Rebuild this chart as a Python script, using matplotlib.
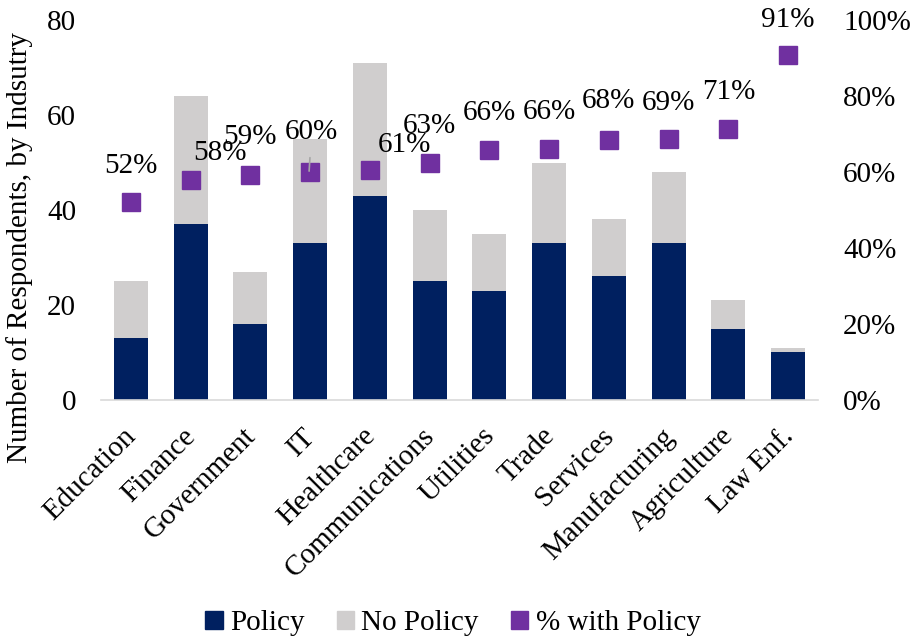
import matplotlib
matplotlib.use("Agg")
import matplotlib.pyplot as plt
import matplotlib.transforms as mtransforms
from matplotlib.patches import Patch
import numpy as np

plt.rcParams['font.family'] = ['Liberation Serif', 'DejaVu Serif']

industries = ["Education", "Finance", "Government", "IT", "Healthcare",
              "Communications", "Utilities", "Trade", "Services",
              "Manufacturing", "Agriculture", "Law Enf."]
policy = [13, 37, 16, 33, 43, 25, 23, 33, 26, 33, 15, 10]
totals = [25, 64, 27, 55, 71, 40, 35, 50, 38, 48, 21, 11]
pct_labels = ["52%", "58%", "59%", "60%", "61%", "63%", "66%", "66%",
              "68%", "69%", "71%", "91%"]

no_policy = [t - p for t, p in zip(totals, policy)]
pct_with_policy = [p / t for p, t in zip(policy, totals)]

# label offsets (points) relative to each marker
label_dx = [0, 21, 0, 1, 25, 0, 0, 0, 0, 0, 0, 0]
label_dy = [26, 20, 27, 29, 18, 26, 27, 27, 28, 26, 26, 25]

NAVY = "#002060"
GREY = "#D0CECE"
PURPLE = "#7030A0"
FS = 21

fig = plt.figure(figsize=(9.15, 6.42), dpi=100)
ax = fig.add_axes([0.1104, 0.377, 0.7836, 0.5918])
x = np.arange(len(industries))
w = 0.57
ax.bar(x, policy, width=w, color=NAVY, zorder=2)
ax.bar(x, no_policy, width=w, bottom=policy, color=GREY, zorder=2)

ax.set_xlim(-0.5, len(industries) - 0.5)
ax.set_ylim(0, 80)
ax.set_yticks([0, 20, 40, 60, 80])
ax.set_ylabel("Number of Respondents, by Indsutry", fontsize=FS)
ax.yaxis.set_label_coords(-0.095, 0.40)
ax.set_xticks(x)
ax.set_xticklabels(industries, rotation=45, ha="right", rotation_mode="anchor",
                   fontsize=FS)
ax.tick_params(axis="both", length=0, labelsize=FS)
ax.tick_params(axis="x", pad=8)
ax.tick_params(axis="y", pad=18)
shift = mtransforms.ScaledTranslation(-0.08, -0.12, fig.dpi_scale_trans)
for lbl in ax.get_xticklabels():
    lbl.set_transform(lbl.get_transform() + shift)
for s in ["top", "right", "left"]:
    ax.spines[s].set_visible(False)
ax.spines["bottom"].set_color("#D9D9D9")
ax.spines["bottom"].set_linewidth(1.2)

ax2 = ax.twinx()
ax2.set_ylim(0, 1)
ax2.set_yticks([0, 0.2, 0.4, 0.6, 0.8, 1.0])
ax2.set_yticklabels(["0%", "20%", "40%", "60%", "80%", "100%"])
ax2.tick_params(axis="y", length=0, labelsize=FS, pad=18)
for s in ["top", "right", "left", "bottom"]:
    ax2.spines[s].set_visible(False)
ax2.plot(x, pct_with_policy, linestyle="none", marker="s", markersize=13.5,
         color=PURPLE, zorder=3)

for i, (xi, yi, lab) in enumerate(zip(x, pct_with_policy, pct_labels)):
    ax2.annotate(lab, (xi, yi), xytext=(label_dx[i], label_dy[i]),
                 textcoords="offset points", ha="center", va="center",
                 fontsize=FS, color="black", zorder=4)

# leader line for the IT label
ax2.annotate("", (x[3] - 0.02, pct_with_policy[3] - 0.005),
             xytext=(x[3], pct_with_policy[3] + 0.045),
             arrowprops=dict(arrowstyle="-", color="#A6A6A6", lw=1.2))

handles = [Patch(color=NAVY, label="Policy"),
           Patch(color=GREY, label="No Policy"),
           Patch(color=PURPLE, label="% with Policy")]
fig.legend(handles=handles, loc="center", bbox_to_anchor=(0.495, 0.029),
           ncol=3, frameon=False, fontsize=FS, handlelength=0.6,
           handleheight=0.6, handletextpad=0.25, columnspacing=1.1)

fig.savefig("out.png", dpi=100)
